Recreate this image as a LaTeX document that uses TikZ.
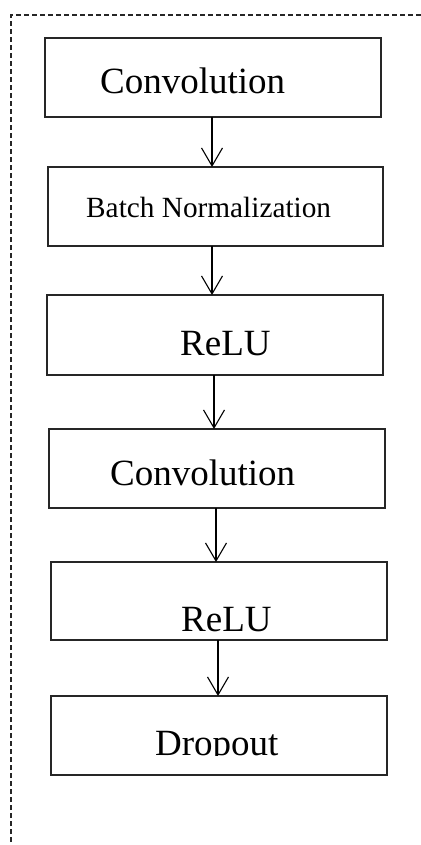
\documentclass[tikz,border=0pt]{standalone}
\usepackage{fontspec}
\setmainfont{Liberation Serif}
\usetikzlibrary{arrows.meta}
\begin{document}
\begin{tikzpicture}[x=1pt,y=-1pt,
  layer/.style={draw=black!85,line width=1.2pt,rectangle,minimum width=336pt,
    minimum height=79pt,inner sep=0pt,outer sep=0pt},
  big/.style={font=\fontsize{37}{40}\selectfont,inner sep=0pt,anchor=base west},
  small/.style={font=\fontsize{29.3}{32}\selectfont,inner sep=0pt,anchor=base west},
  flow/.style={draw=black,line width=1.1pt,-{Straight Barb[length=18pt,width=21pt,line width=1.1pt]}},
  frame/.style={draw=black!85,line width=1.2pt,dash pattern=on 5pt off 3pt}]
\useasboundingbox (0,0) rectangle (420,845);

% dashed enclosure (top and left sides)
\draw[frame] (11,850) -- (11,15) -- (425,15);

% layer boxes
\node[layer] (conv1) at (213,77.5) {};
\node[layer,minimum width=335pt] (bn) at (215.5,206.5) {};
\node[layer,minimum height=80pt] (relu1) at (215,335) {};
\node[layer] (conv2) at (217,468.5) {};
\node[layer,minimum height=78pt] (relu2) at (219,601) {};
\node[layer] (drop) at (219,735.5) {};

% labels
\node[big] (t1) at (100,94) {Convolution};
\node[small] (t2) at (86,217) {Batch Normalization};
\node[big] (t3) at (180,355) {ReLU};
\node[big] (t4) at (110,485.5) {Convolution};
\node[big] (t5) at (181,631.5) {ReLU};
\begin{scope}
  \clip (60,700) rectangle (380,755.5);
  \node[big] (t6) at (155,755) {Dropout};
\end{scope}

% connectors
\draw[flow] ([xshift=-1pt]conv1.south) -- ([xshift=-1pt]conv1.south |- bn.north);
\draw[flow] ([xshift=-3.5pt]bn.south) -- ([xshift=-3.5pt]bn.south |- relu1.north);
\draw[flow] ([xshift=-1pt]relu1.south) -- ([xshift=-1pt]relu1.south |- conv2.north);
\draw[flow] ([xshift=-1pt]conv2.south) -- ([xshift=-1pt]conv2.south |- relu2.north);
\draw[flow] ([xshift=-1pt]relu2.south) -- ([xshift=-1pt]relu2.south |- drop.north);
\end{tikzpicture}
\end{document}
